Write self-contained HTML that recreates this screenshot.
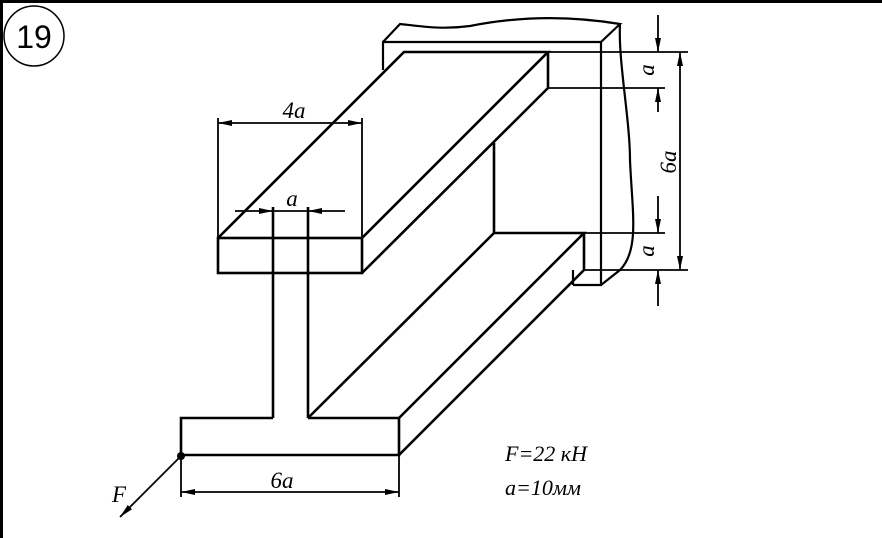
<!DOCTYPE html>
<html><head><meta charset="utf-8"><style>
html,body{margin:0;padding:0;background:#fff;}
svg{display:block;}
text{font-family:"Liberation Serif",serif;font-style:italic;fill:#000;}
</style></head><body>
<svg width="882" height="538" viewBox="0 0 882 538" xmlns="http://www.w3.org/2000/svg">
<defs>
<marker id="ar" viewBox="0 0 14 6" refX="14" refY="3" markerWidth="14" markerHeight="6" orient="auto" markerUnits="userSpaceOnUse">
<path d="M0,0 L14,3 L0,6 z" fill="#000"/></marker>
</defs>
<g fill="none" stroke="#000">
<line x1="0" y1="1.5" x2="882" y2="1.5" stroke-width="3"/>
<line x1="1.5" y1="0" x2="1.5" y2="538" stroke-width="3"/>
<circle cx="34" cy="36" r="30" stroke-width="1.5"/>
<g stroke-width="2.2">
<path d="M383,70 L383,42 L601,42 L601,285 L573,285"/>
<path d="M383,42 L400,24 C420,26 440,30 470,26 C510,18 560,14 620,24 L601,42"/>
<path d="M620,24 C618,60 630,120 630,160 C632,210 640,250 620,270 L601,285"/>
<line x1="573" y1="270" x2="573" y2="285"/>
</g>
<g stroke-width="2.6">
<rect x="218" y="238" width="144" height="35"/>
<path d="M218,238 L404,52 L548,52 L362,238"/>
<path d="M548,52 L548,88 L362,273"/>
<line x1="273" y1="207" x2="273" y2="418"/>
<line x1="308" y1="207" x2="308" y2="418"/>
<line x1="494" y1="143" x2="494" y2="233"/>
<path d="M273,418 L181,418 L181,455 L399,455 L399,418 L308,418"/>
<path d="M308,418 L494,233 L584,233 L399,418"/>
<path d="M584,233 L584,270 L399,455"/>
</g>
<g stroke-width="1.8">
<line x1="548" y1="52" x2="688" y2="52"/>
<line x1="548" y1="88" x2="665" y2="88"/>
<line x1="584" y1="233" x2="665" y2="233"/>
<line x1="584" y1="270" x2="688" y2="270"/>
<line x1="658" y1="15" x2="658" y2="52" marker-end="url(#ar)"/>
<line x1="658" y1="112" x2="658" y2="88" marker-end="url(#ar)"/>
<line x1="658" y1="196" x2="658" y2="233" marker-end="url(#ar)"/>
<line x1="658" y1="306" x2="658" y2="270" marker-end="url(#ar)"/>
<line x1="680" y1="110" x2="680" y2="52" marker-end="url(#ar)"/>
<line x1="680" y1="200" x2="680" y2="270" marker-end="url(#ar)"/>
<line x1="680" y1="110" x2="680" y2="200"/>
<line x1="218" y1="118" x2="218" y2="238"/>
<line x1="362" y1="118" x2="362" y2="238"/>
<line x1="290" y1="123" x2="218" y2="123" marker-end="url(#ar)"/>
<line x1="290" y1="123" x2="362" y2="123" marker-end="url(#ar)"/>
<line x1="235" y1="211" x2="273" y2="211" marker-end="url(#ar)"/>
<line x1="345" y1="211" x2="308" y2="211" marker-end="url(#ar)"/>
<line x1="273" y1="211" x2="308" y2="211"/>
<line x1="181" y1="455" x2="181" y2="497"/>
<line x1="399" y1="455" x2="399" y2="497"/>
<line x1="290" y1="492" x2="181" y2="492" marker-end="url(#ar)"/>
<line x1="290" y1="492" x2="399" y2="492" marker-end="url(#ar)"/>
<line x1="181" y1="456" x2="120" y2="517" marker-end="url(#ar)"/>
</g>
</g>
<circle cx="181" cy="456" r="4" fill="#000"/>
<text x="34" y="48" font-size="32" text-anchor="middle" style="font-family:'Liberation Sans',sans-serif;font-style:normal">19</text>
<text x="294" y="118" font-size="23" text-anchor="middle">4a</text>
<text x="292" y="206" font-size="23" text-anchor="middle">a</text>
<text x="282" y="488" font-size="23" text-anchor="middle">6a</text>
<text x="119" y="502" font-size="23" text-anchor="middle">F</text>
<text x="505" y="461" font-size="22">F=22 кН</text>
<text x="505" y="495" font-size="22">a=10мм</text>
<text transform="translate(654,70) rotate(-90)" font-size="23" text-anchor="middle">a</text>
<text transform="translate(676,162) rotate(-90)" font-size="23" text-anchor="middle">6a</text>
<text transform="translate(654,251) rotate(-90)" font-size="23" text-anchor="middle">a</text>
</svg>
</body></html>
